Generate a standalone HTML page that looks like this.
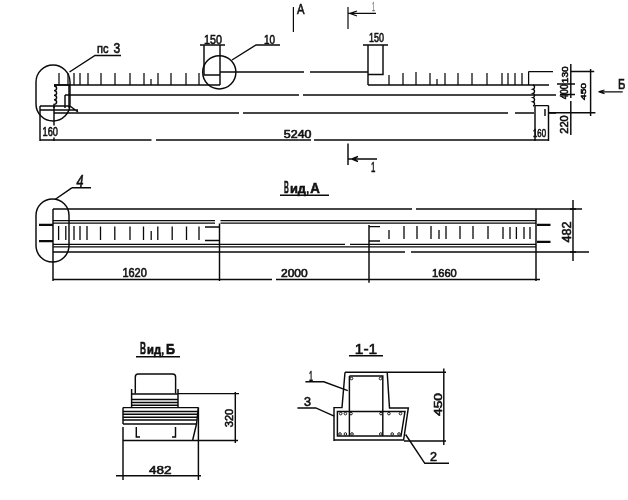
<!DOCTYPE html>
<html><head><meta charset="utf-8">
<style>
html,body{margin:0;padding:0;background:#fff;}
svg{display:block;will-change:transform;}
text{font-family:"Liberation Sans",sans-serif;fill:#111;stroke:#111;stroke-width:0.6;}
</style></head>
<body>
<svg width="628" height="500" viewBox="0 0 628 500">
<g stroke="#0a0a0a" stroke-width="1.45" fill="none" stroke-linecap="butt">
<!-- ========== ELEVATION ========== -->
<rect x="36" y="65" width="34" height="56" rx="17" ry="17"/>
<circle cx="219.3" cy="72.3" r="16.6"/>
<!-- top lines -->
<path d="M54,85 H220 M220,72 H304 M310,72 H368 M368,85 H549"/>
<path d="M65,95 H299 M303,95 H556"/>
<path d="M54,113 H239 M243,113 H508 M515,113 H534 M549,113 H556"/>
<path d="M40,140 H151.5 M156,140 H311 M314,140 H549"/>
<!-- step left -->
<path d="M220,45 V85 M204,45 V75 H220 M200,45 H225"/>
<!-- step right -->
<path d="M368,45 V85 M383,45 V74.5 H368 M363,45 H388"/>
<!-- leaders -->
<path d="M232,60 L256,45 H280"/>
<path d="M69.5,72 L95,55.5 H121"/>
<!-- ticks -->
<path d="M59,73V85 M68,73V85 M74,73V85 M80,73V85 M88,73V85 M101,73V85 M115,73V85 M130,73V85 M144,73V85 M151,79V85 M158,73V85 M171,73V85 M186,73V85 M199,73V85" stroke-width="1.25"/>
<path d="M389,75V85 M403,73V85 M416,72V85 M430,73V85 M437,79V85 M445,73V85 M458,73V85 M472,73V85 M487,73V85 M502,73V85 M508,73V85 M515,73V85 M522,73V85 M528.6,71.6V85 M528.6,71.6H553" stroke-width="1.25"/>
<!-- left end detail -->
<path d="M54,85 H70 M54,86 a2.6,2.3 0 0 1 0,4.6 a2.6,2.3 0 0 1 0,4.6 a2.6,2.3 0 0 1 0,4.6 a2.6,2.3 0 0 1 0,4.6 V108"/>
<path d="M69,85 V108 M65,95 V108 M40,106 H70 M40,110 H78 M70,106 L78,112"/>
<path d="M40,106 V141 M54,106 V125.5 M54,137.5 V141"/>
<!-- right end detail -->
<path d="M533,85 a2.2,2.2 0 0 1 0,4.2 a2.2,2.2 0 0 1 0,4.2 a2.2,2.2 0 0 1 0,4.2 a2.2,2.2 0 0 1 0,4.2 a2.2,2.2 0 0 1 0,4.2"/>
<path d="M535,105.6 H548.5 M535,105.6 V141 M548.5,105.6 V141 M545,109V116"/>
<!-- right dims -->
<path d="M570.8,64 V98 M570.8,101 V135 M557,84 H575 M560,94.5 H575"/>
<path d="M590.6,69 V116 M570.8,71.4 H594.2 M549,112.8 H595.4"/>
<path d="M598.5,91.8 H622.7 M598.5,91.8 L604.5,90 M598.5,91.8 L604.5,93.6" stroke-width="1.2"/>
<!-- section markers -->
<path d="M293.4,7 V32" stroke-width="1.2"/>
<path d="M348,7 V29 M348,13.4 H376 M350,13.4 L357,11 M350,13.4 L357,16" stroke-width="1.2"/>
<path d="M348,143.5 V165 M348,159 H377 M352,159 L358,156.5 M352,159 L358,161.5"/>

<!-- ========== PLAN (Вид А) ========== -->
<rect x="36" y="199" width="33" height="63" rx="16.5" ry="16.5"/>
<path d="M71.8,187.8 L55,199.5 M71.8,187.8 H91"/>
<path d="M53,209 H412 M416,209 H582"/>
<path d="M53,220.6 H215 M220.5,220.6 H536 M53,223.1 H215 M220.5,223.1 H536" stroke-width="1.15"/>
<path d="M53,244.3 H345 M350,244.3 H536 M53,246.9 H536" stroke-width="1.15"/>
<path d="M53,252 H405 M411,252 H589"/>
<path d="M53,209 V281 M536,209 V281 M219.5,223.4 V281 M369,225 V282.7"/>
<path d="M53,279.4 H272 M276,279.4 H540"/>
<path d="M39,224.8 H53 M39,241.2 H53 M537,224.8 H550.5 M537,241.9 H550.5" stroke-width="2.3"/>
<path d="M205,227 H219.5 M205,240.5 H219.5  M369,226.6 H380 M369,241 H380"/>
<path d="M58.6,226V240 M65.8,226V240 M74,226V240 M80,226V240 M87,226V240 M100.5,226.5V240 M114.8,226.5V240 M130,226.5V240 M143.5,226.5V240 M151.2,231V240 M157.8,226.5V240 M172.2,226.5V240 M186.5,226.5V240 M199,226.5V240" stroke-width="1.3"/>
<path d="M389,230V239 M404,226V239 M417,226V239 M431,226V239 M439,230V239 M446,226V239 M460,226V239 M473,226V239 M488,226V239 M503,227V239 M510,227V239 M516.4,227V239 M524,227V239 M530,227V239" stroke-width="1.3"/>
<path d="M573,200 V261 M570,209 H576 M570,252 H576"/>
<path d="M280,195.2 H329"/>

<!-- ========== Вид Б ========== -->
<path d="M136,356.7 H180"/>
<path d="M135.3,393.4 V377 q0,-3 3,-3 H172.6 q3,0 3,3 V393.4"/>
<path d="M131.6,389 V408 M178,389 V408 M131.6,394 H178 M131.6,399.4 H178 M131.6,402.4 H178 M131.6,405.2 H178"/>
<path d="M123,407.6 H198.4 M123,407.6 V424 M123,427 V480 M198.4,407.6 V480"/>
<path d="M123,411.5 H197.9 M123,414.3 H197.5 M123,417.2 H197.2 M123,420 H196.9 M123,424 H196.5"/>
<path d="M198.4,407.6 L196.5,424 L192.7,440"/>
<path d="M136.3,427 V437 H140 M175.5,427 V437 H172"/>
<path d="M123,440.5 H238 M178,393.6 H239 M235.3,392 V443 M116,475.8 H201"/>

<!-- ========== Section 1-1 ========== -->
<path d="M349,355.8 H383"/>
<path d="M345,372.2 H446 M345,372.2 L342,407.6 H334 V441 M387.2,372.2 L389.5,408 H408.3 L403.6,440 H334 M404,441 H446"/>
<path d="M443.8,368.5 V445"/>
<path d="M349.4,376 H382.8 V436 M349.4,376 V436"/>
<path d="M337.4,411.4 H405 L401,436 H337.4 Z"/>
<path d="M305.4,381.8 H323.8 L347.8,390.6 M297.4,407.9 H315.8 L334.2,416.2 M405.6,434.5 L424.8,463.3 H449"/>
</g>
<!-- rebar dots -->
<g fill="none" stroke="#1a1a1a" stroke-width="1">
<circle cx="351.5" cy="378.5" r="1.3"/><circle cx="380.5" cy="378.5" r="1.3"/>
<circle cx="340.7" cy="413.6" r="1.3"/><circle cx="345.4" cy="413.6" r="1.3"/><circle cx="351" cy="413.6" r="1.3"/><circle cx="381" cy="413.6" r="1.3"/><circle cx="388.9" cy="413.6" r="1.3"/><circle cx="400.5" cy="413.6" r="1.3"/>
<circle cx="340" cy="434" r="1.3"/><circle cx="345.4" cy="434" r="1.3"/><circle cx="352" cy="434" r="1.3"/><circle cx="380.8" cy="434" r="1.3"/><circle cx="392.2" cy="434" r="1.3"/><circle cx="399" cy="434" r="1.3"/>
</g>
<!-- texts -->
<g>
<text x="42.5" y="136.3" font-size="13" textLength="15.5" lengthAdjust="spacingAndGlyphs">160</text>
<text x="533" y="136.5" font-size="10.5" textLength="13" lengthAdjust="spacingAndGlyphs">160</text>
<text x="283.8" y="137.7" font-size="11" textLength="27.7" lengthAdjust="spacingAndGlyphs">5240</text>
<text x="204" y="44" font-size="13.5" textLength="18" lengthAdjust="spacingAndGlyphs">150</text>
<text x="369" y="42" font-size="12.5" textLength="15" lengthAdjust="spacingAndGlyphs">150</text>
<text x="264" y="44" font-size="12.5" textLength="11" lengthAdjust="spacingAndGlyphs">10</text>
<text x="97" y="53" font-size="13.5" textLength="11.5" lengthAdjust="spacingAndGlyphs">пс</text>
<text x="113.5" y="53" font-size="14.5" textLength="6.7" lengthAdjust="spacingAndGlyphs">3</text>
<text x="297" y="14.4" font-size="14" textLength="7.5" lengthAdjust="spacingAndGlyphs">A</text>
<text x="618" y="88.8" font-size="14" textLength="7.4" lengthAdjust="spacingAndGlyphs">Б</text>
<text x="76.4" y="186.7" font-size="16" font-style="italic" textLength="7" lengthAdjust="spacingAndGlyphs">4</text>
<text x="284" y="193.1" font-size="16.5" font-weight="bold" textLength="4.8" lengthAdjust="spacingAndGlyphs">В</text>
<text x="290" y="193.1" font-size="13.5" font-weight="bold" textLength="16" lengthAdjust="spacingAndGlyphs">ид</text>
<text x="306" y="193.1" font-size="12">,</text>
<text x="310.3" y="193.1" font-size="15" font-weight="bold" textLength="9.6" lengthAdjust="spacingAndGlyphs">А</text>
<text x="122.4" y="277.3" font-size="12" textLength="24.4" lengthAdjust="spacingAndGlyphs">1620</text>
<text x="281" y="277.3" font-size="11" textLength="26.7" lengthAdjust="spacingAndGlyphs">2000</text>
<text x="432" y="277.3" font-size="11.5" textLength="24.8" lengthAdjust="spacingAndGlyphs">1660</text>
<text x="140" y="354.2" font-size="16" font-weight="bold" textLength="6" lengthAdjust="spacingAndGlyphs">В</text>
<text x="147" y="354.2" font-size="13" font-weight="bold" textLength="14" lengthAdjust="spacingAndGlyphs">ид</text>
<text x="161" y="354.2" font-size="12">,</text>
<text x="166" y="354.2" font-size="15" font-weight="bold" textLength="9" lengthAdjust="spacingAndGlyphs">Б</text>
<text x="149" y="474" font-size="11.5" textLength="22.5" lengthAdjust="spacingAndGlyphs">482</text>
<text x="354.8" y="354" font-size="15.4" textLength="22.4" lengthAdjust="spacingAndGlyphs">1-1</text>
<text x="309" y="381" font-size="14.5" textLength="4" lengthAdjust="spacingAndGlyphs">1</text>
<text x="304" y="405.8" font-size="12.3" textLength="7" lengthAdjust="spacingAndGlyphs">3</text>
<text x="430" y="461" font-size="12" textLength="7" lengthAdjust="spacingAndGlyphs">2</text>
<text x="372" y="11" font-size="12" textLength="3" lengthAdjust="spacingAndGlyphs" style="fill:#777;stroke:#777;stroke-width:0.3">1</text>
<text x="371" y="172" font-size="15" textLength="4.4" lengthAdjust="spacingAndGlyphs">1</text>
<!-- rotated -->
<text transform="translate(568.4,83.2) rotate(-90)" font-size="9" textLength="17" lengthAdjust="spacingAndGlyphs">130</text>
<text transform="translate(568,99.3) rotate(-90)" font-size="10.5" textLength="15" lengthAdjust="spacingAndGlyphs">400</text>
<text transform="translate(567.6,133.7) rotate(-90)" font-size="10" textLength="18.4" lengthAdjust="spacingAndGlyphs">220</text>
<text transform="translate(586,100) rotate(-90)" font-size="8" textLength="17" lengthAdjust="spacingAndGlyphs">450</text>
<text transform="translate(570.8,242.6) rotate(-90)" font-size="12.8" textLength="21" lengthAdjust="spacingAndGlyphs">482</text>
<text transform="translate(233.2,427.2) rotate(-90)" font-size="11" textLength="18.4" lengthAdjust="spacingAndGlyphs">320</text>
<text transform="translate(442,416) rotate(-90)" font-size="10.6" textLength="23" lengthAdjust="spacingAndGlyphs">450</text>
</g>
</svg>
</body></html>
